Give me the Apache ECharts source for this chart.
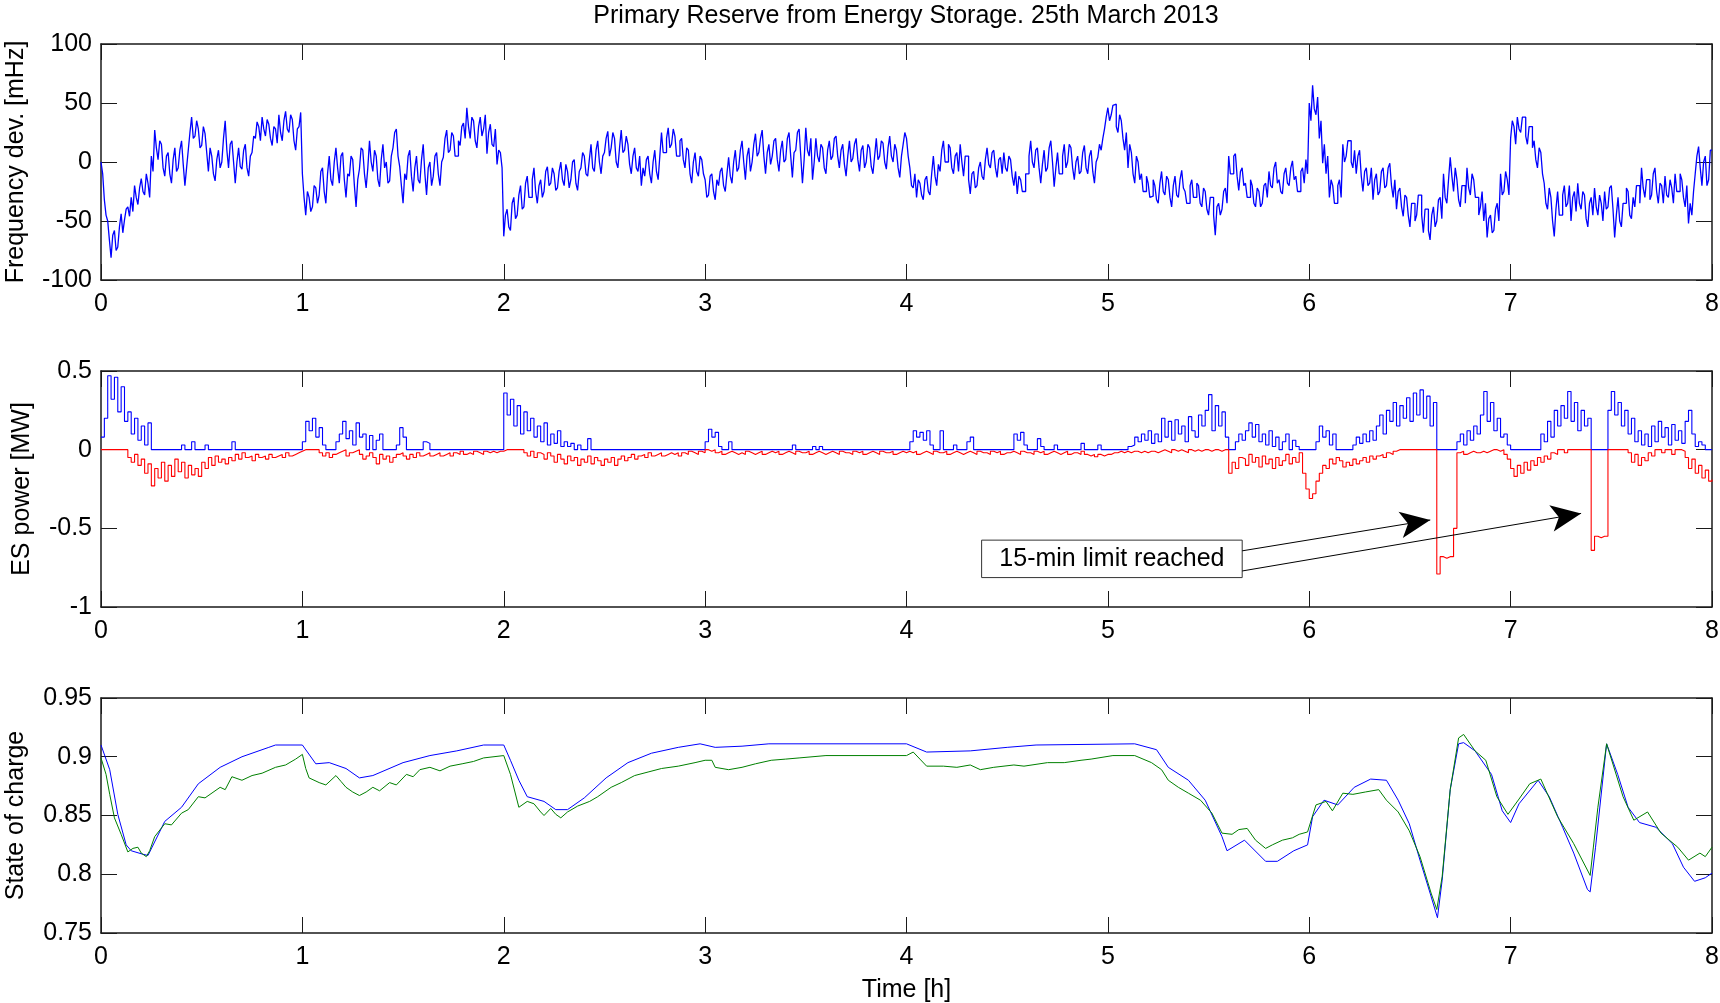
<!DOCTYPE html>
<html><head><meta charset="utf-8">
<script src="https://cdn.jsdelivr.net/npm/echarts@6.0.0/dist/echarts.min.js"></script>
<style>html,body{margin:0;padding:0;background:#fff}#c{width:1720px;height:1003px}</style>
</head><body><div id="c"></div><script>
// ---- data ----
// frequency deviation [mHz], 30-second samples (index / 120 = hours)
const freqDev = [
0,-10,-32,-45,-50,-66,-81,-62,-58,-75,-72,-55,-44,-60,-49,-40,-38,-46,-30,-42,
-20,-30,-36,-22,-14,-25,-28,-10,-18,-30,5,-8,27,12,2,18,15,-5,-12,5,
8,-10,-18,2,12,-8,-5,10,18,-2,-20,-5,10,25,38,20,22,35,28,12,
14,30,24,8,-8,12,5,-10,-16,2,10,-5,0,20,35,10,-5,15,18,0,
-18,0,12,-4,-6,10,15,-5,-12,5,8,22,20,34,30,18,38,28,22,36,
32,20,14,30,28,16,40,25,18,35,43,28,25,40,36,18,10,28,30,42,
-10,-30,-45,-25,-30,-42,-38,-20,-22,-35,-28,-8,-5,-25,-35,-10,5,-15,-20,0,
12,-5,-18,5,8,-15,-30,-10,-12,5,2,-20,-38,-15,-6,12,10,-10,-22,-5,
18,0,-8,10,5,-15,-21,2,15,-5,0,-18,-16,5,12,25,28,5,-4,-20,
-35,-10,-15,5,10,-12,-25,-5,5,-15,-18,2,15,-10,-28,-5,0,-20,-12,5,
8,-10,-20,0,4,20,27,8,10,25,22,5,5,18,14,30,33,20,46,30,
20,38,35,18,12,30,38,22,28,40,7,25,32,15,13,28,-2,10,8,-5,
-63,-45,-40,-55,-58,-35,-30,-48,-45,-28,-20,-40,-38,-18,-12,-30,-30,-15,-5,-25,
-35,-20,-15,-30,-25,-8,-4,-20,-18,-5,-10,-24,-22,-8,0,-15,-20,-2,-8,-22,
-15,0,2,-18,-24,-8,-5,8,5,-10,-12,2,15,-5,-8,10,18,0,-10,5,
8,20,26,5,12,25,20,0,-5,12,27,8,10,22,15,-2,-10,5,12,-5,
-8,5,-20,-5,-12,2,5,-10,-18,0,10,-8,-15,5,25,8,8,20,29,12,
15,28,22,5,5,18,20,2,-5,12,10,-10,-18,0,8,-8,-12,5,2,-10,
-15,-30,-28,-12,-10,-25,-32,-15,-20,-8,-5,-20,-25,-10,4,-12,-18,0,10,-8,
-5,10,18,0,-15,5,12,-8,0,15,24,5,8,20,27,5,-10,8,15,-2,
5,18,20,2,-8,10,18,0,2,20,25,5,-13,8,10,25,28,5,-18,2,
29,10,5,20,-15,0,20,5,0,15,12,-5,-10,10,18,2,5,20,22,5,
-5,10,15,-2,-12,5,18,0,3,15,20,2,-8,10,14,-5,0,15,12,-4,
-10,5,20,2,5,18,16,0,-6,12,22,5,0,15,10,-5,-13,5,15,25,
20,5,-5,-20,-22,-10,-30,-15,-18,-28,-32,-15,-12,-25,-28,-10,5,-12,-20,-2,
-8,10,18,0,0,15,12,-5,-10,5,8,-8,15,0,-12,5,5,-15,-27,-10,
-8,-22,-20,-5,0,-12,-15,2,12,-2,-5,8,10,-5,-13,2,4,-10,8,-5,
-8,5,2,-12,-20,-8,-27,-12,-15,-25,-25,-10,-10,5,18,0,-5,10,12,-5,
-18,-2,10,-8,-5,12,18,0,-21,-5,8,-10,-10,5,15,-5,0,15,12,-5,
-15,0,5,-10,-8,8,14,-5,-10,5,10,-8,-18,0,4,15,10,20,28,38,
46,35,40,48,49,30,25,40,35,20,10,25,-5,15,8,-10,-18,5,0,-15,
-10,-25,-25,-12,-18,-30,-29,-15,-20,-32,-35,-18,-8,-25,-28,-12,-15,-30,-38,-20,
-12,-28,-30,-15,-7,-22,-25,-35,-35,-20,-15,-30,-30,-18,-20,-35,-38,-22,-25,-40,
-45,-30,-30,-45,-62,-38,-35,-45,-40,-25,-22,-35,5,-10,-10,5,7,-12,-24,-8,
-5,-20,-18,-30,-30,-15,-20,-35,-38,-22,-25,-38,-35,-20,-18,-30,-8,-20,-22,-5,
0,-18,-15,-25,-27,-10,-5,-18,-20,-5,1,-15,-12,-25,-25,-8,-5,-18,2,-10,
50,35,65,45,40,55,20,35,-1,15,-10,5,-30,-15,-20,-35,-35,-20,-15,-30,
15,0,5,18,18,0,-5,10,-10,5,10,-12,-25,-8,-5,-20,-18,-5,-32,-15,
-10,-28,-25,-8,-5,-22,-20,-5,-1,-20,-30,-15,-40,-25,-22,-38,-46,-28,-30,-45,
-55,-35,-35,-50,-45,-28,-28,-45,-60,-40,-40,-58,-66,-45,-38,-55,-50,-32,-30,-48,
-10,-30,-35,-15,4,-12,-25,-5,-15,-32,-38,-20,-20,-35,-5,-22,-28,-10,-15,-30,
-30,-45,-38,-25,-50,-35,-64,-48,-45,-60,-58,-40,-35,-50,-10,-28,-25,-8,-15,-28,
20,35,30,15,38,28,25,38,38,22,15,30,30,12,18,2,-5,12,8,-10,
-18,-35,-40,-22,-30,-50,-63,-40,-25,-45,-45,-28,-20,-38,-35,-20,-50,-30,-25,-42,
-18,-35,-40,-25,-28,-48,-55,-35,-30,-45,-22,-38,-45,-28,-35,-50,-25,-40,-38,-22,
-20,-40,-64,-45,-30,-50,-55,-35,-35,-22,-25,-45,-48,-30,-38,-20,-20,-35,-5,-22,
-30,-15,-15,-32,-28,-10,-5,-25,-35,-18,-20,-35,-12,-28,-30,-15,-22,-35,-10,-25,
-25,-10,-15,-30,-38,-20,-52,-35,-45,-25,-10,5,13,-5,-20,0,5,-20,-15,10,
10];

// ES power [MW], 1-minute samples (index / 60 = hours)
const powerUp = [
0.08,0.20,0.47,0.32,0.46,0.24,0.40,0.18,0.24,0.10,
0.20,0.06,0.15,0.03,0.17,0,0,0,0,0,
0,0,0,0,0.03,0,0,0.05,0,0,
0,0.03,0,0,0,0,0,0,0,0.05,
0,0,0,0,0,0,0,0,0,0,
0,0,0,0,0,0,0,0,0,0,
0.05,0.18,0.12,0.20,0.08,0.14,0.03,0,0,0,
0.05,0.10,0.18,0.07,0.12,0.03,0.17,0.08,0.10,0,
0.09,0,0.06,0.10,0,0,0,0,0.03,0.14,
0.08,0,0,0,0,0,0.05,0.04,0,0,
0,0,0,0,0,0,0,0,0,0,
0,0,0,0,0,0,0,0,0,0,
0.36,0.22,0.32,0.15,0.28,0.10,0.24,0.12,0.20,0.08,
0.15,0.05,0.17,0.03,0.10,0.04,0.12,0.02,0.05,0.02,
0.04,0,0.03,0,0,0.07,0,0,0,0,
0,0,0,0,0,0,0,0,0,0,
0,0,0,0,0,0,0,0,0,0,
0,0,0,0,0,0,0,0,0,0,
0.05,0.13,0.08,0.11,0.02,0,0,0.05,0,0,
0,0,0,0,0,0,0,0,0,0,
0,0,0,0,0,0,0.03,0,0,0,
0,0,0.02,0,0.02,0,0,0,0,0,
0,0,0,0,0,0,0,0,0,0,
0,0,0,0,0,0,0,0,0,0,
0,0.05,0.12,0.08,0.11,0.06,0.12,0.03,0,0,
0.12,0,0,0,0.03,0,0,0,0.05,0.08,
0,0,0,0,0,0,0,0,0,0,
0,0,0.10,0.06,0.11,0.03,0,0,0,0.07,
0.02,0,0,0,0.03,0,0,0,0,0,
0,0,0.04,0,0,0,0,0.03,0,0,
0,0,0,0,0,0,0.02,0.03,0.08,0.05,
0.10,0.06,0.12,0.04,0.10,0.05,0.20,0.08,0.18,0.06,
0.19,0.10,0.15,0.05,0.21,0.12,0.08,0.22,0.15,0.25,
0.35,0.12,0.28,0.15,0.24,0.08,0,0,0.05,0.10,
0.06,0.12,0.17,0.08,0.16,0.05,0.10,0.03,0.12,0.02,
0.08,0,0.05,0.10,0,0.06,0.02,0,0,0,
0,0,0.05,0.15,0.08,0.12,0.03,0.10,0,0,
0,0,0,0.03,0.08,0.04,0.10,0.05,0.12,0.06,
0.15,0.22,0.10,0.25,0.18,0.30,0.15,0.28,0.20,0.33,
0.18,0.36,0.22,0.38,0.20,0.34,0.15,0.30,0,0,
0,0,0,0,0.05,0.10,0.03,0.12,0.06,0.15,
0.10,0.22,0.37,0.18,0.30,0.12,0.20,0.08,0.10,0.03,
0,0,0,0,0,0,0,0,0,0.10,
0.05,0.18,0.08,0.25,0.15,0.28,0.20,0.37,0.18,0.30,
0.12,0.25,0.15,0.20,0,0,0,0,0,0.25,
0.37,0.22,0.30,0.15,0.25,0.10,0.20,0.05,0.12,0.03,
0.10,0.02,0.15,0.05,0.18,0.08,0.14,0.03,0.16,0.06,
0.12,0.04,0.18,0.25,0.10,0.02,0.05,0.03,0,0,
0];

const powerDown = [
0,0,0,0,0,0,0,0,-0.05,-0.08,
-0.03,-0.10,-0.06,-0.15,-0.09,-0.23,-0.12,-0.18,-0.08,-0.20,
-0.10,-0.17,-0.06,-0.14,-0.08,-0.18,-0.10,-0.16,-0.12,-0.17,
-0.08,-0.12,-0.05,-0.10,-0.04,-0.08,-0.06,-0.09,-0.05,-0.07,
-0.03,-0.06,-0.02,-0.05,-0.04,-0.07,-0.03,-0.05,-0.04,-0.06,
-0.03,-0.05,-0.04,-0.03,-0.05,-0.02,-0.04,-0.03,-0.02,-0.01,
0,0,0,0,0,-0.02,-0.04,-0.02,-0.05,-0.03,
-0.02,-0.01,0,-0.04,-0.02,-0.01,0,-0.03,-0.06,-0.04,
-0.02,-0.05,-0.09,-0.03,-0.06,-0.04,-0.08,-0.05,-0.03,-0.02,
-0.04,-0.06,-0.03,-0.05,-0.02,-0.04,-0.03,-0.02,-0.04,-0.03,
-0.02,-0.04,-0.03,-0.02,-0.04,-0.02,-0.03,-0.01,-0.03,-0.02,
-0.03,-0.01,-0.02,-0.03,-0.01,-0.02,-0.01,-0.02,-0.01,-0.01,
0,0,0,0,0,0,-0.02,-0.04,-0.01,-0.05,
-0.02,-0.03,-0.06,-0.02,-0.04,-0.08,-0.03,-0.06,-0.09,-0.04,
-0.07,-0.05,-0.10,-0.06,-0.08,-0.04,-0.09,-0.05,-0.07,-0.10,
-0.06,-0.08,-0.05,-0.10,-0.06,-0.04,-0.07,-0.05,-0.03,-0.06,
-0.04,-0.03,-0.05,-0.02,-0.04,-0.03,-0.02,-0.04,-0.03,-0.02,
-0.03,-0.02,-0.04,-0.02,-0.03,-0.01,-0.02,-0.03,-0.01,-0.02,
0,-0.01,0,-0.02,-0.01,-0.03,-0.02,-0.01,-0.02,-0.03,
-0.02,-0.03,-0.01,-0.02,-0.03,-0.02,-0.01,-0.03,-0.02,-0.01,
-0.02,-0.01,-0.03,-0.02,-0.01,-0.02,-0.03,-0.01,-0.02,-0.02,
-0.01,-0.03,-0.02,-0.01,-0.02,-0.03,-0.02,-0.01,-0.02,-0.03,
-0.01,-0.02,-0.02,-0.03,-0.01,-0.02,-0.01,-0.03,-0.02,-0.01,
-0.02,-0.03,-0.01,-0.02,-0.02,-0.01,-0.03,-0.02,-0.01,-0.02,
-0.01,-0.02,-0.01,-0.03,-0.02,-0.01,-0.02,-0.03,-0.01,-0.02,
-0.02,-0.01,-0.03,-0.02,-0.01,-0.02,-0.03,-0.02,-0.01,-0.02,
-0.03,-0.01,-0.02,-0.02,-0.03,-0.01,-0.02,-0.01,-0.03,-0.02,
-0.02,-0.01,-0.02,-0.03,-0.01,-0.02,-0.02,-0.03,-0.01,-0.02,
-0.01,-0.03,-0.02,-0.01,-0.02,-0.03,-0.02,-0.01,-0.03,-0.02,
-0.02,-0.03,-0.01,-0.03,-0.04,-0.03,-0.045,-0.03,-0.04,-0.03,
-0.03,-0.02,-0.02,-0.01,-0.02,-0.01,-0.02,-0.01,-0.01,-0.02,
-0.01,-0.02,-0.01,-0.01,-0.02,-0.01,0,-0.01,-0.02,0,
-0.01,0,-0.01,-0.02,0,-0.01,0,-0.01,0,0,
-0.01,0,0,-0.01,0,0,-0.15,-0.08,-0.12,-0.05,
-0.06,-0.10,-0.03,-0.08,-0.05,-0.11,-0.04,-0.09,-0.06,-0.12,
-0.05,-0.10,-0.07,-0.03,-0.09,-0.05,-0.08,-0.02,-0.15,-0.25,
-0.31,-0.28,-0.20,-0.15,-0.10,-0.12,-0.06,-0.09,-0.05,-0.07,
-0.11,-0.08,-0.10,-0.06,-0.09,-0.07,-0.05,-0.08,-0.04,-0.06,
-0.04,-0.03,-0.05,-0.02,-0.03,-0.01,0,0,0,0,
0,0,0,0,0,0,0,0,-0.79,-0.68,
-0.69,-0.68,-0.68,-0.50,-0.02,-0.01,-0.03,-0.02,-0.01,-0.02,
-0.02,-0.01,-0.02,-0.01,0,0,-0.01,0,-0.03,-0.06,
-0.12,-0.17,-0.10,-0.15,-0.08,-0.13,-0.07,-0.10,-0.05,-0.08,
-0.04,-0.06,-0.02,-0.03,0,0,-0.02,0,0,0,
0,0,0,0,-0.64,-0.55,-0.56,-0.55,-0.55,0,
0,0,0,0,0,-0.02,-0.08,-0.03,-0.10,-0.05,
-0.07,-0.02,-0.04,0,0,-0.02,0,0,-0.03,0,
0,-0.01,-0.05,-0.12,-0.06,-0.15,-0.10,-0.18,-0.13,-0.20,
-0.19];

// state of charge, read at irregular times (minutes)
const socBlueT = [0,2.6,5,7.5,9,12.5,14,19,24,29,35.5,42,50,52,60,64,68,73,77,81,90,98,106,114,120,122,124.5,127,132,135.5,139,144,150.5,157,164,172,178.5,183,191,199,240,246,259,270,278.6,308,314.5,318,324,329,334,335.5,340.7,347,350.5,355.4,359.5,361,364.4,368.5,373.4,378.3,383,386.5,389.8,393,396,398.2,399.6,402,404.5,406,409.4,414.3,417.5,420,422.5,428.2,431.5,435.5,438.8,442.9,443.7,445.3,448.6,451.9,455,458.4,463.3,468.2,471.5,474.8,478,480];
const socBlue = [0.91,0.889,0.851,0.825,0.82,0.817,0.816,0.845,0.857,0.877,0.891,0.9,0.908,0.91,0.91,0.894,0.895,0.89,0.882,0.884,0.895,0.901,0.905,0.91,0.91,0.897,0.88,0.866,0.862,0.855,0.855,0.865,0.882,0.895,0.903,0.908,0.911,0.908,0.909,0.911,0.911,0.904,0.905,0.908,0.91,0.911,0.906,0.891,0.88,0.863,0.832,0.82,0.829,0.811,0.811,0.82,0.825,0.849,0.863,0.859,0.874,0.881,0.88,0.863,0.843,0.812,0.784,0.763,0.795,0.872,0.911,0.912,0.905,0.885,0.854,0.844,0.86,0.88,0.866,0.84,0.818,0.787,0.785,0.823,0.911,0.885,0.857,0.844,0.84,0.826,0.806,0.794,0.797,0.801];
const socGreenT = [0,1.5,2.6,4,6,8,9.5,11,12,13.5,14.5,16,19,21,24,26,29,31,35.5,37,39,42,45,48,52,55,58,60,61,62,65,67,70,71.5,73,75,77,79,81,83,86,88,91,93,95,98,101,104,107.6,111,114,120,122,124.5,127,129,131,132,134,135.5,137,139,142,145.6,148,152,155,159,163,167,172,177,180,182,183,187,191,195,199.7,204,208,216,240,242,244,246,251,255,259,262,266,272,275,282,287,292,295,301.5,308,313,316,318,321,324,327.6,331,334,337,339,341.5,344,347,349,352,355,357,359.5,362,365,366.9,370,373,376.7,380.7,383,386.5,389.8,393,396.3,398,399.6,402,404.5,406,409.4,412.6,415.9,419.2,422.5,425.7,429,434,438.8,443.7,446,448.6,453.5,456.7,460.8,464.8,469.8,473,476.4,478,480];
const socGreen = [0.899,0.885,0.868,0.848,0.834,0.819,0.822,0.823,0.818,0.815,0.82,0.832,0.843,0.842,0.852,0.855,0.866,0.865,0.874,0.872,0.883,0.88,0.884,0.886,0.891,0.893,0.898,0.902,0.89,0.882,0.878,0.876,0.884,0.879,0.874,0.87,0.867,0.87,0.874,0.871,0.878,0.876,0.885,0.883,0.889,0.891,0.888,0.892,0.894,0.896,0.899,0.901,0.885,0.857,0.862,0.86,0.853,0.85,0.856,0.851,0.848,0.853,0.858,0.862,0.866,0.874,0.878,0.884,0.887,0.89,0.892,0.895,0.897,0.897,0.891,0.889,0.891,0.894,0.897,0.898,0.899,0.901,0.901,0.904,0.898,0.892,0.892,0.891,0.893,0.889,0.891,0.893,0.892,0.895,0.895,0.897,0.898,0.901,0.901,0.895,0.889,0.88,0.874,0.869,0.863,0.852,0.835,0.834,0.838,0.839,0.829,0.822,0.825,0.829,0.831,0.834,0.836,0.859,0.862,0.854,0.869,0.868,0.87,0.872,0.863,0.853,0.837,0.815,0.784,0.77,0.798,0.872,0.916,0.919,0.905,0.897,0.866,0.851,0.864,0.877,0.881,0.849,0.826,0.799,0.857,0.911,0.866,0.846,0.853,0.835,0.823,0.812,0.818,0.815,0.823];

const xTicks = [0, 8, 1];              // min, max, step (hours)
const freqTicks = [-100, 100, 50];
const powerTicks = [-1, 0.5, 0.5];
const socTicks = [0.75, 0.95, 0.05];

const titleText = 'Primary Reserve from Energy Storage. 25th March 2013';
const yNames = ['Frequency dev. [mHz]', 'ES power [MW]', 'State of charge'];
const xName = 'Time [h]';
const noteText = '15-min limit reached';
// annotation anchors in data units [hours, MW]
const noteBox = [[4.373, -0.575], [5.667, -0.813]];
const noteArrows = [[[5.667, -0.643], [6.601, -0.447]], [[5.667, -0.771], [7.350, -0.405]]];

// ---- chart ----
const FONT = '"Liberation Sans", Arial, Helvetica, sans-serif';
const AX = '#1a1a1a';
const grids = [
  {left: 101, right: 8, top: 44, height: 236, outerBoundsMode: 'none', containLabel: false},
  {left: 101, right: 8, top: 371, height: 236, outerBoundsMode: 'none', containLabel: false},
  {left: 101, right: 8, top: 698, height: 235, outerBoundsMode: 'none', containLabel: false}
];
const yTicks = [freqTicks, powerTicks, socTicks];
const nameGaps = [72, 66, 72];
const xAxes = [], yAxes = [];
grids.forEach((g, i) => {
  const base = {gridIndex: i, type: 'value', min: xTicks[0], max: xTicks[1], interval: xTicks[2],
    axisLine: {show: true, onZero: false, lineStyle: {color: AX, width: 1.5}},
    axisTick: {show: true, inside: true, length: 16, lineStyle: {color: AX, width: 1}},
    splitLine: {show: false}};
  xAxes.push(Object.assign({}, base, {position: 'bottom',
    axisLabel: {margin: 12, fontSize: 25, color: '#000', fontFamily: FONT},
    name: i === 2 ? xName : '', nameLocation: 'middle', nameGap: 45,
    nameTextStyle: {fontSize: 25, color: '#000', fontFamily: FONT}}));
  xAxes.push(Object.assign({}, base, {position: 'top', axisLabel: {show: false}}));
  const t = yTicks[i];
  const ybase = {gridIndex: i, type: 'value', min: t[0], max: t[1], interval: t[2],
    axisLine: {show: true, onZero: false, lineStyle: {color: AX, width: 1.5}},
    axisTick: {show: true, inside: true, length: 16, lineStyle: {color: AX, width: 1}},
    splitLine: {show: false}};
  yAxes.push(Object.assign({}, ybase, {position: 'left',
    axisLabel: {margin: 9, fontSize: 25, color: '#000', fontFamily: FONT,
      formatter: v => String(Number(v.toFixed(2)))},
    name: yNames[i], nameLocation: 'middle', nameGap: nameGaps[i],
    nameTextStyle: {fontSize: 25, color: '#000', fontFamily: FONT}}));
  yAxes.push(Object.assign({}, ybase, {position: 'right', axisLabel: {show: false}}));
});

const sampled = (arr, perHour) => arr.map((v, i) => [i / perHour, v]);
const pairs = (ts, vs) => ts.map((t, i) => [t / 60, vs[i]]);
const lineBase = {type: 'line', showSymbol: false, symbol: 'none', silent: true, animation: false};

const option = {
  backgroundColor: '#fff',
  animation: false,
  title: {text: titleText, left: 906, top: 4, textAlign: 'center', padding: 0,
    textStyle: {fontSize: 25, fontWeight: 'normal', color: '#000', fontFamily: FONT}},
  grid: grids,
  xAxis: xAxes,
  yAxis: yAxes,
  series: [
    Object.assign({}, lineBase, {xAxisIndex: 0, yAxisIndex: 0, step: 'end', data: sampled(freqDev, 120),
      lineStyle: {color: '#0000ff', width: 1.3}}),
    Object.assign({}, lineBase, {xAxisIndex: 2, yAxisIndex: 2, step: 'end', data: sampled(powerUp, 60),
      lineStyle: {color: '#0000ff', width: 1.1}}),
    Object.assign({}, lineBase, {xAxisIndex: 2, yAxisIndex: 2, step: 'end', data: sampled(powerDown, 60),
      lineStyle: {color: '#ff0000', width: 1.1},
      markArea: {silent: true,
        itemStyle: {color: '#fff', borderColor: '#333', borderWidth: 1},
        label: {show: true, position: 'inside', color: '#000', fontSize: 25, fontFamily: FONT},
        data: [[{name: noteText, coord: noteBox[0]}, {coord: noteBox[1]}]]},
      markLine: {silent: true, animation: false, symbol: ['none', 'arrow'],
        lineStyle: {color: '#000', width: 1, type: 'solid'}, label: {show: false},
        emphasis: {disabled: true},
        data: noteArrows.map(a => [{coord: a[0], symbol: 'none'}, {coord: a[1], symbol: 'arrow', symbolSize: [20, 30]}])}}),
    Object.assign({}, lineBase, {xAxisIndex: 4, yAxisIndex: 4, data: pairs(socBlueT, socBlue),
      lineStyle: {color: '#0000ff', width: 1}}),
    Object.assign({}, lineBase, {xAxisIndex: 4, yAxisIndex: 4, data: pairs(socGreenT, socGreen),
      lineStyle: {color: '#008000', width: 1}})
  ]
};
const chart = echarts.init(document.getElementById('c'), null, {renderer: 'canvas'});
chart.setOption(option);
</script></body></html>
